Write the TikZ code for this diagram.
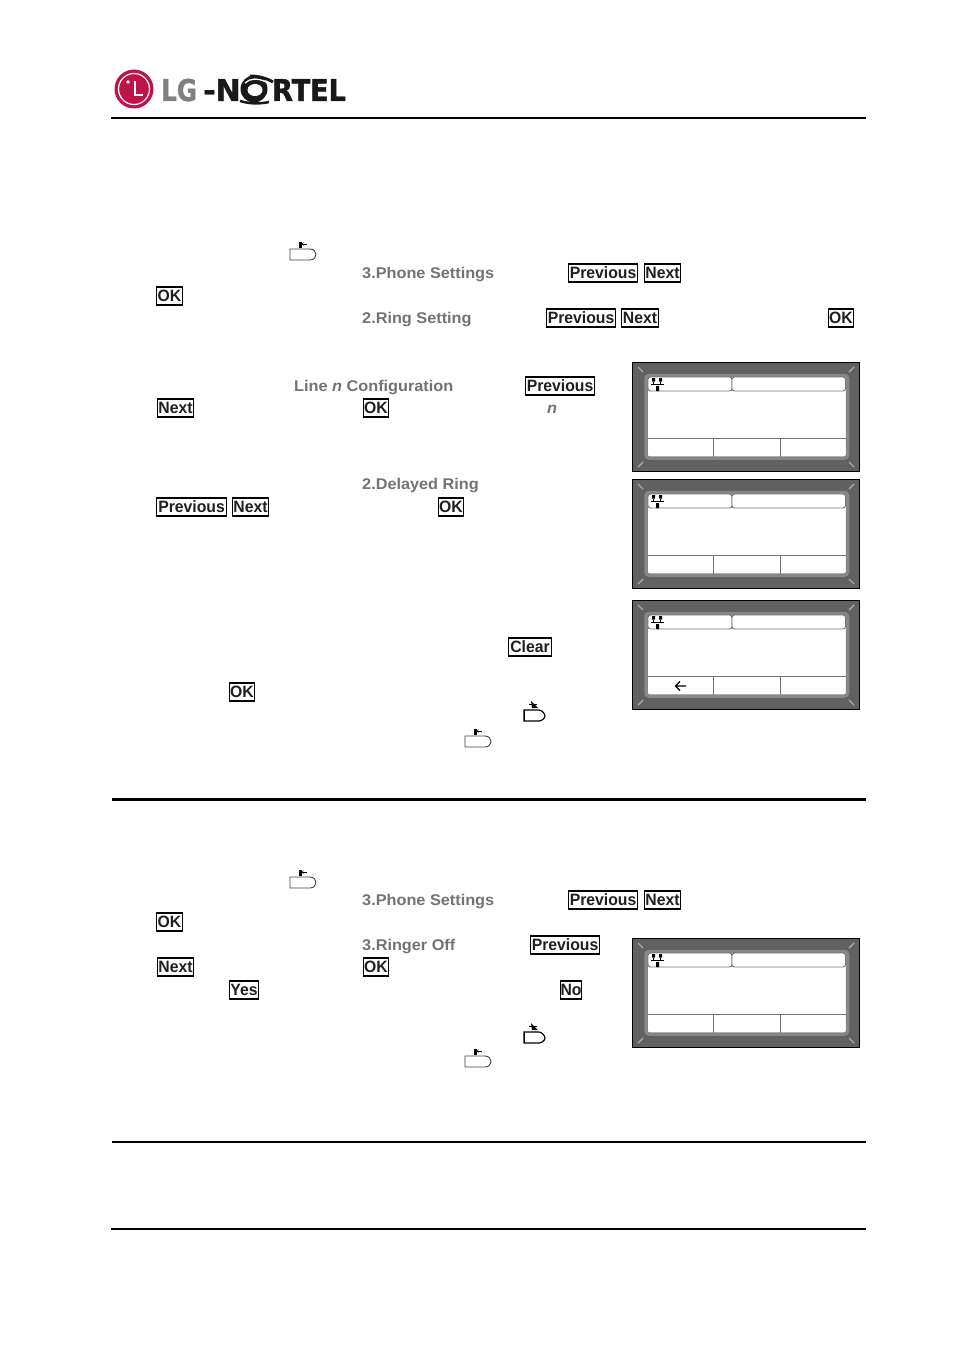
\documentclass[tikz,border=0pt]{standalone}
\usepackage{fontspec}
\setmainfont{Liberation Sans}
\newfontfamily\keyfont[FakeStretch=0.96]{Liberation Sans Bold}
\newfontfamily\menufont[FakeStretch=1.05,ItalicFont={Liberation Sans Bold Italic}]{Liberation Sans Bold}
\newfontfamily\logofont[FakeBold=1.5]{DejaVu Sans Bold}
\definecolor{lgred}{RGB}{190,20,72}
\begin{document}
\begin{tikzpicture}[x=1pt,y=-1pt,
 softkey/.style={draw=black,line width=1.2pt,fill=white,inner sep=0pt,minimum height=18pt,text height=11.8pt,text depth=0pt,font=\keyfont\fontsize{16.4}{18}\selectfont,text=black!88},
 menutext/.style={inner sep=0pt,anchor=base west,yshift=-5.5pt,font=\menufont\fontsize{15.5}{18}\selectfont,text=black!55},
 logotext/.style={inner sep=0pt,anchor=base west,font=\logofont\fontsize{30}{30}\selectfont},
 rule/.style={line width=2pt,black},
 lcdbody/.style={fill=black!62,draw=black,line width=1.4pt},
 lcdframe/.style={fill=white,draw=black!47,line width=3.5pt,rounded corners=3pt},
 lcdline/.style={draw=black!55,line width=1pt},
 corner/.style={draw=black!35,line width=1.4pt},
 keysym/.style={draw=black!75,line width=0.9pt,fill=white},
 pics/lcd/.style={code={
  \draw[lcdbody] (0.7,0.7) rectangle (227.3,109.3);
  \draw[lcdframe] (14,13.5) rectangle (215.5,96);
  \draw[lcdline] (15.5,76) -- (214,76);
  \draw[lcdline] (81,76) -- (81,94.5);
  \draw[lcdline] (148,76) -- (148,94.5);
  \draw[draw=black!55,line width=0.9pt,fill=white,rounded corners=2.5pt] (16,15) rectangle (100,29);
  \draw[draw=black!55,line width=0.9pt,fill=white,rounded corners=2.5pt] (100,15) rectangle (213.5,29);
  \fill[black] (20,16) rectangle (23,19.5) (27,16) rectangle (30,19.5) (24,24) rectangle (27,29);
  \draw[black,line width=0.8pt] (19,22.5) -- (32,22.5) (21.5,19.5) -- (21.5,22.5) (28.5,19.5) -- (28.5,22.5);
  \draw[corner] (6,5) -- (11,10) (222,5) -- (217,10) (6,105) -- (11,100) (222,105) -- (217,100);
 }},
 pics/holdkey/.style={code={
  \draw[keysym] (0,0) -- (20,0) .. controls (24,0) and (26,3) .. (26,5.5) .. controls (26,8) and (24,11) .. (20,11) -- (0,11) -- cycle;
  \fill[black] (9,-7) rectangle (11.5,-1.5);
  \draw[black,line width=0.7pt] (11.5,-5) -- (17,-5);
  \draw[black,line width=0.6pt] (13.5,-6.5) -- (12,-5) -- (13.5,-3.5);
 }},
 pics/speakerkey/.style={code={
  \draw[black,line width=1.2pt,fill=white] (0,0) -- (15,0) .. controls (18,0) and (21,4) .. (21,6) .. controls (21,8) and (18,11) .. (15,11) -- (0,11) -- cycle;
  \draw[black,line width=1.6pt] (0.5,0) -- (0.5,11);
  \fill[black] (7,-9) -- (11,-5) -- (14,-2) -- (8,-2) -- cycle;
  \draw[black,line width=0.8pt] (5,-6) -- (13,-6);
 }}
]
\useasboundingbox (0,0) rectangle (954,1351);
\fill[white] (0,0) rectangle (954,1351);
% logo
\node[circle,fill=lgred,inner sep=0pt,minimum size=39pt] (logoring) at (134,89) {};
\node[circle,draw=white,line width=1.2pt,inner sep=0pt,minimum size=31pt] (logoinner) at (134,89) {};
\fill[white] (128,82) circle (1.8);
\draw[white,line width=1.5pt] (135,81) -- (135,95) -- (143,95);
\node[logotext,text=black!50] (logolg) at (161,101) {\scalebox{0.82}[1]{LG}};
\node[logotext,text=black!90] (logon) at (203,101) {\scalebox{1}[1]{-N}};
\node[logotext,text=black!90] (logortel) at (272,101) {\scalebox{0.9}[1]{RTEL}};
\fill[black!90] (254,89) ellipse (13.5 and 13.5);
\fill[white] (255,90) ellipse (7.5 and 6);
\draw[white,line width=1.3pt] (245,83) .. controls (250,78) and (258,78) .. (266,82);
\draw[black!90,line width=3pt] (250,76) .. controls (258,76) and (266,78) .. (273,82);
\draw[black!90,line width=2.5pt] (240,101) .. controls (250,104) and (260,104) .. (269,102);
% rules
\coordinate (r1a) at (111,118); \coordinate (r1b) at (866,118);
\coordinate (r2a) at (112,799.5); \coordinate (r2b) at (866,799.5);
\coordinate (r3a) at (112,1142); \coordinate (r3b) at (866,1142);
\coordinate (r4a) at (111,1229); \coordinate (r4b) at (866,1229);
\draw[rule] (r1a) -- (r1b);
\draw[rule,line width=3pt] (r2a) -- (r2b);
\draw[rule] (r3a) -- (r3b);
\draw[rule] (r4a) -- (r4b);
% menu text
\node[menutext] (m1) at (362,273) {3.Phone Settings};
\node[menutext] (m2) at (362,318) {2.Ring Setting};
\node[menutext] (m3) at (294,386) {Line \textit{n} Configuration};
\node[menutext] (m4) at (547,408) {\textit{n}};
\node[menutext] (m5) at (362,484) {2.Delayed Ring};
\node[menutext] (m6) at (362,900) {3.Phone Settings};
\node[menutext] (m7) at (362,945) {3.Ringer Off};
% soft keys
\node[softkey,minimum width=69.5pt] (k1) at (603,273) {Previous};
\node[softkey,minimum width=36pt] (k2) at (662.5,273) {Next};
\node[softkey,minimum width=25.5pt] (k3) at (169.5,296) {OK};
\node[softkey,minimum width=69.5pt] (k4) at (581,318) {Previous};
\node[softkey,minimum width=36.5pt] (k5) at (640,318) {Next};
\node[softkey,minimum width=25.5pt] (k6) at (841,318) {OK};
\node[softkey,minimum width=69.5pt] (k7) at (560,386) {Previous};
\node[softkey,minimum width=36.5pt] (k8) at (175.5,408) {Next};
\node[softkey,minimum width=25.5pt] (k9) at (376,408) {OK};
\node[softkey,minimum width=70.5pt] (k10) at (191.5,507) {Previous};
\node[softkey,minimum width=36.5pt] (k11) at (250.5,507) {Next};
\node[softkey,minimum width=25.5pt] (k12) at (451,507) {OK};
\node[softkey,minimum width=43.5pt] (k13) at (530,647) {Clear};
\node[softkey,minimum width=25.5pt] (k14) at (242,692) {OK};
\node[softkey,minimum width=69.5pt] (k15) at (603,900) {Previous};
\node[softkey,minimum width=36pt] (k16) at (662.5,900) {Next};
\node[softkey,minimum width=25.5pt] (k17) at (169.5,922) {OK};
\node[softkey,minimum width=69.5pt] (k18) at (565,945) {Previous};
\node[softkey,minimum width=36.5pt] (k19) at (175.5,967) {Next};
\node[softkey,minimum width=25.5pt] (k20) at (376,967) {OK};
\node[softkey,minimum width=29.5pt] (k21) at (244,990) {Yes};
\node[softkey,minimum width=21.5pt] (k22) at (571,990) {No};
% key symbols
\pic at (290,249) {holdkey};
\pic at (290,877) {holdkey};
\pic at (465,736) {holdkey};
\pic at (465,1056) {holdkey};
\pic at (524,710) {speakerkey};
\pic at (524,1032) {speakerkey};
% displays
\pic at (632,362) {lcd};
\pic at (632,479) {lcd};
\pic at (632,600) {lcd};
\pic at (632,938) {lcd};
\draw[black,line width=1.3pt] (686,686) -- (676,686) (680,681.5) -- (675.5,686) -- (680,690.5);
\end{tikzpicture}
\end{document}
